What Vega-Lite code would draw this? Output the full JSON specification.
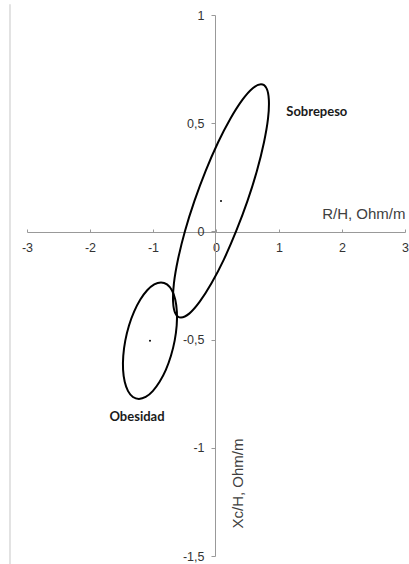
{
  "$schema": "https://vega.github.io/schema/vega-lite/v6.json",
  "width": 378,
  "height": 541,
  "autosize": {"type": "none"},
  "padding": {"left": 27, "top": 15, "right": 4, "bottom": 8},
  "background": "white",
  "config": {"view": {"stroke": null}, "font": "Liberation Sans"},
  "datasets": {
    "ellipses": [
      {"series": "Sobrepeso", "i": 0, "x": 0.714, "y": 0.680},
      {"series": "Sobrepeso", "i": 1, "x": 0.801, "y": 0.662},
      {"series": "Sobrepeso", "i": 2, "x": 0.839, "y": 0.608},
      {"series": "Sobrepeso", "i": 3, "x": 0.826, "y": 0.522},
      {"series": "Sobrepeso", "i": 4, "x": 0.761, "y": 0.411},
      {"series": "Sobrepeso", "i": 5, "x": 0.650, "y": 0.280},
      {"series": "Sobrepeso", "i": 6, "x": 0.500, "y": 0.141},
      {"series": "Sobrepeso", "i": 7, "x": 0.321, "y": 0.002},
      {"series": "Sobrepeso", "i": 8, "x": 0.126, "y": -0.129},
      {"series": "Sobrepeso", "i": 9, "x": -0.072, "y": -0.240},
      {"series": "Sobrepeso", "i": 10, "x": -0.261, "y": -0.326},
      {"series": "Sobrepeso", "i": 11, "x": -0.425, "y": -0.380},
      {"series": "Sobrepeso", "i": 12, "x": -0.556, "y": -0.398},
      {"series": "Sobrepeso", "i": 13, "x": -0.643, "y": -0.380},
      {"series": "Sobrepeso", "i": 14, "x": -0.681, "y": -0.326},
      {"series": "Sobrepeso", "i": 15, "x": -0.668, "y": -0.240},
      {"series": "Sobrepeso", "i": 16, "x": -0.603, "y": -0.129},
      {"series": "Sobrepeso", "i": 17, "x": -0.492, "y": 0.002},
      {"series": "Sobrepeso", "i": 18, "x": -0.342, "y": 0.141},
      {"series": "Sobrepeso", "i": 19, "x": -0.164, "y": 0.280},
      {"series": "Sobrepeso", "i": 20, "x": 0.032, "y": 0.411},
      {"series": "Sobrepeso", "i": 21, "x": 0.230, "y": 0.522},
      {"series": "Sobrepeso", "i": 22, "x": 0.418, "y": 0.608},
      {"series": "Sobrepeso", "i": 23, "x": 0.583, "y": 0.662},
      {"series": "Obesidad", "i": 0, "x": -0.873, "y": -0.236},
      {"series": "Obesidad", "i": 1, "x": -0.778, "y": -0.245},
      {"series": "Obesidad", "i": 2, "x": -0.700, "y": -0.272},
      {"series": "Obesidad", "i": 3, "x": -0.647, "y": -0.315},
      {"series": "Obesidad", "i": 4, "x": -0.621, "y": -0.371},
      {"series": "Obesidad", "i": 5, "x": -0.624, "y": -0.435},
      {"series": "Obesidad", "i": 6, "x": -0.656, "y": -0.505},
      {"series": "Obesidad", "i": 7, "x": -0.715, "y": -0.575},
      {"series": "Obesidad", "i": 8, "x": -0.796, "y": -0.640},
      {"series": "Obesidad", "i": 9, "x": -0.895, "y": -0.695},
      {"series": "Obesidad", "i": 10, "x": -1.004, "y": -0.738},
      {"series": "Obesidad", "i": 11, "x": -1.116, "y": -0.765},
      {"series": "Obesidad", "i": 12, "x": -1.223, "y": -0.774},
      {"series": "Obesidad", "i": 13, "x": -1.319, "y": -0.765},
      {"series": "Obesidad", "i": 14, "x": -1.396, "y": -0.738},
      {"series": "Obesidad", "i": 15, "x": -1.449, "y": -0.695},
      {"series": "Obesidad", "i": 16, "x": -1.475, "y": -0.640},
      {"series": "Obesidad", "i": 17, "x": -1.472, "y": -0.575},
      {"series": "Obesidad", "i": 18, "x": -1.440, "y": -0.505},
      {"series": "Obesidad", "i": 19, "x": -1.381, "y": -0.435},
      {"series": "Obesidad", "i": 20, "x": -1.300, "y": -0.371},
      {"series": "Obesidad", "i": 21, "x": -1.201, "y": -0.315},
      {"series": "Obesidad", "i": 22, "x": -1.092, "y": -0.272},
      {"series": "Obesidad", "i": 23, "x": -0.980, "y": -0.245}
    ],
    "centers": [
      {"series": "Sobrepeso", "x": 0.079, "y": 0.141},
      {"series": "Obesidad", "x": -1.048, "y": -0.505}
    ],
    "labels": [
      {"label": "Sobrepeso", "x": 1.60, "y": 0.551},
      {"label": "Obesidad", "x": -1.254, "y": -0.856}
    ]
  },
  "layer": [
    {
      "data": {"values": [{}]},
      "mark": {"type": "rule", "color": "#d9d9d9", "strokeWidth": 1.5},
      "encoding": {
        "x": {"datum": -3.27, "type": "quantitative"},
        "y": {"datum": 1.05, "type": "quantitative"},
        "y2": {"datum": -1.54}
      }
    },
    {
      "data": {"name": "ellipses"},
      "mark": {"type": "line", "interpolate": "cardinal-closed", "color": "black", "strokeWidth": 2},
      "encoding": {
        "x": {
          "field": "x",
          "type": "quantitative",
          "scale": {"domain": [-3, 3], "nice": false, "zero": false},
          "axis": {
            "orient": "bottom",
            "offset": -324,
            "values": [-3, -2.5, -2, -1.5, -1, -0.5, 0, 0.5, 1, 1.5, 2, 2.5, 3],
            "labelExpr": "datum.value % 1 === 0 ? '' + datum.value : ''",
            "grid": false,
            "domainColor": "#999999",
            "tickColor": "#999999",
            "tickSize": -3,
            "labelPadding": 12,
            "labelFont": "Liberation Sans",
            "labelFontSize": 12.5,
            "labelColor": "#333333",
            "labelOverlap": false,
            "labelFlush": false,
            "title": "R/H, Ohm/m",
            "titleFont": "Liberation Sans",
            "titleFontSize": 15,
            "titleFontWeight": "normal",
            "titleColor": "#404040",
            "titleX": 378,
            "titleY": -14,
            "titleAlign": "right",
            "titleAnchor": null,
            "titleBaseline": "alphabetic"
          }
        },
        "y": {
          "field": "y",
          "type": "quantitative",
          "scale": {"domain": [-1.5, 1], "nice": false, "zero": false},
          "axis": {
            "orient": "left",
            "offset": -188,
            "values": [-1.5, -1, -0.5, 0, 0.5, 1],
            "labelExpr": "replace('' + datum.value, '.', ',')",
            "grid": false,
            "domainColor": "#999999",
            "tickColor": "#999999",
            "tickSize": 4,
            "labelPadding": 7,
            "labelFont": "Liberation Sans",
            "labelFontSize": 12.5,
            "labelColor": "#333333",
            "labelOverlap": false,
            "labelFlush": false,
            "title": "Xc/H, Ohm/m",
            "titleFont": "Liberation Sans",
            "titleFontSize": 15,
            "titleFontWeight": "normal",
            "titleColor": "#404040",
            "titleX": 22,
            "titleY": 468,
            "titleAngle": 270,
            "titleAlign": "center",
            "titleAnchor": null,
            "titleBaseline": "middle"
          }
        },
        "detail": {"field": "series"},
        "order": {"field": "i", "type": "quantitative"}
      }
    },
    {
      "data": {"name": "centers"},
      "mark": {"type": "circle", "color": "black", "size": 4, "opacity": 1},
      "encoding": {
        "x": {"field": "x", "type": "quantitative"},
        "y": {"field": "y", "type": "quantitative"}
      }
    },
    {
      "data": {"name": "labels"},
      "mark": {"type": "text", "font": "Lato", "fontWeight": "bold", "fontSize": 13, "color": "#1a1a1a", "align": "center", "baseline": "middle"},
      "encoding": {
        "x": {"field": "x", "type": "quantitative"},
        "y": {"field": "y", "type": "quantitative"},
        "text": {"field": "label"}
      }
    }
  ]
}
